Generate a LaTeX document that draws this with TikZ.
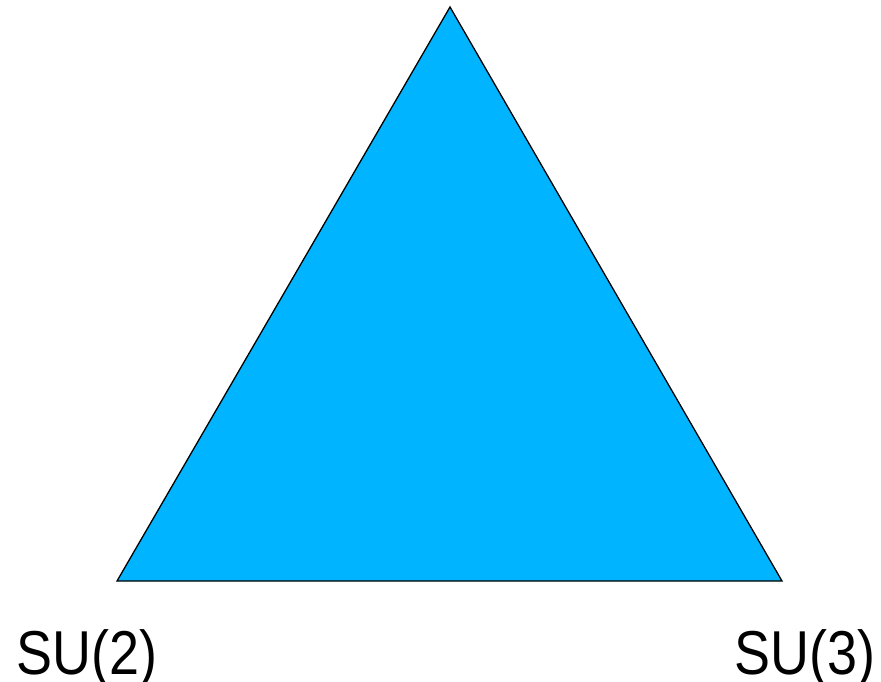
\documentclass[tikz,border=0pt]{standalone}
\usepackage{fontspec}
\setmainfont{Liberation Sans}
\definecolor{tri}{HTML}{00B4FF}
\begin{document}
\begin{tikzpicture}[x=1pt,y=-1pt,
  lab/.style={inner sep=0pt,font=\fontsize{62}{62}\selectfont}]
\useasboundingbox (0,0) rectangle (881,681);
\coordinate (top) at (450,7);
\coordinate (bl) at (117,581);
\coordinate (br) at (782,581);
\filldraw[fill=tri,draw=black,line width=1.3pt,line join=miter] (top) -- (bl) -- (br) -- cycle;
\node[lab,anchor=base west,xscale=0.87] (su2) at (16,674) {SU(2)};
\node[lab,anchor=base east,xscale=0.87] (su3) at (876,674) {SU(3)};
\end{tikzpicture}
\end{document}
